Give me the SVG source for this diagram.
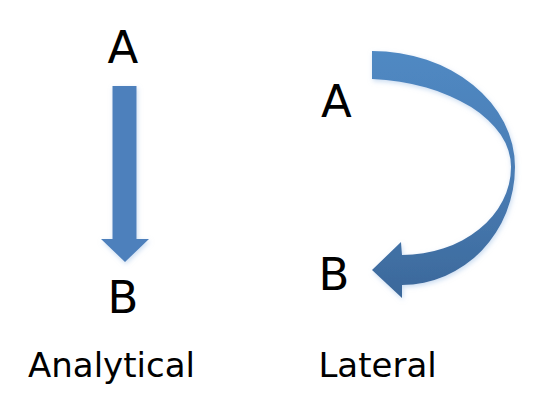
<svg xmlns="http://www.w3.org/2000/svg" width="545" height="407" viewBox="0 0 545 407">
  <style>
    .lbl { font-family: "DejaVu Sans", Verdana, sans-serif; fill: #000; }
    .big { font-size: 45px; }
    .cap { font-size: 34px; }
  </style>
  <defs>
    <linearGradient id="curveGrad" x1="0" y1="51" x2="0" y2="298" gradientUnits="userSpaceOnUse">
      <stop offset="0" stop-color="#5089C3"/>
      <stop offset="0.5" stop-color="#4A7DB5"/>
      <stop offset="1" stop-color="#3B689A"/>
    </linearGradient>
    <filter id="glow" x="-20%" y="-20%" width="140%" height="140%">
      <feGaussianBlur in="SourceAlpha" stdDeviation="2.5" result="b"/>
      <feOffset in="b" dx="1" dy="2" result="o"/>
      <feFlood flood-color="#9DBFE6" flood-opacity="0.55"/>
      <feComposite in2="o" operator="in" result="s"/>
      <feMerge><feMergeNode in="s"/><feMergeNode in="SourceGraphic"/></feMerge>
    </filter>
  </defs>

  <g id="connectors">
    <polygon id="analytical-arrow" filter="url(#glow)" fill="#4D80BC"
      points="112.5,86 136.5,86 136.5,239 149,239 125,262 101,239 112.5,239"/>
    <path id="lateral-arrow" filter="url(#glow)" fill="url(#curveGrad)"
      d="M 372 51 A 143 116 0 0 1 515 167 A 113 118 0 0 1 402 285 L 402 298 L 372 270 L 401 242 L 402 255 A 109 88 0 0 0 511 167 A 151 88 0 0 0 372 79 Z"/>
  </g>

  <g id="analytical-A"><text class="lbl big" x="107.6" y="63">A</text></g>
  <g id="analytical-B"><text class="lbl big" x="107.4" y="313">B</text></g>
  <g id="lateral-A"><text class="lbl big" x="321" y="117">A</text></g>
  <g id="lateral-B"><text class="lbl big" x="318.4" y="290">B</text></g>
  <g id="label-analytical"><text class="lbl cap" x="28" y="376.7">Analytical</text></g>
  <g id="label-lateral"><text class="lbl cap" x="318.4" y="376.7">Lateral</text></g>
</svg>
